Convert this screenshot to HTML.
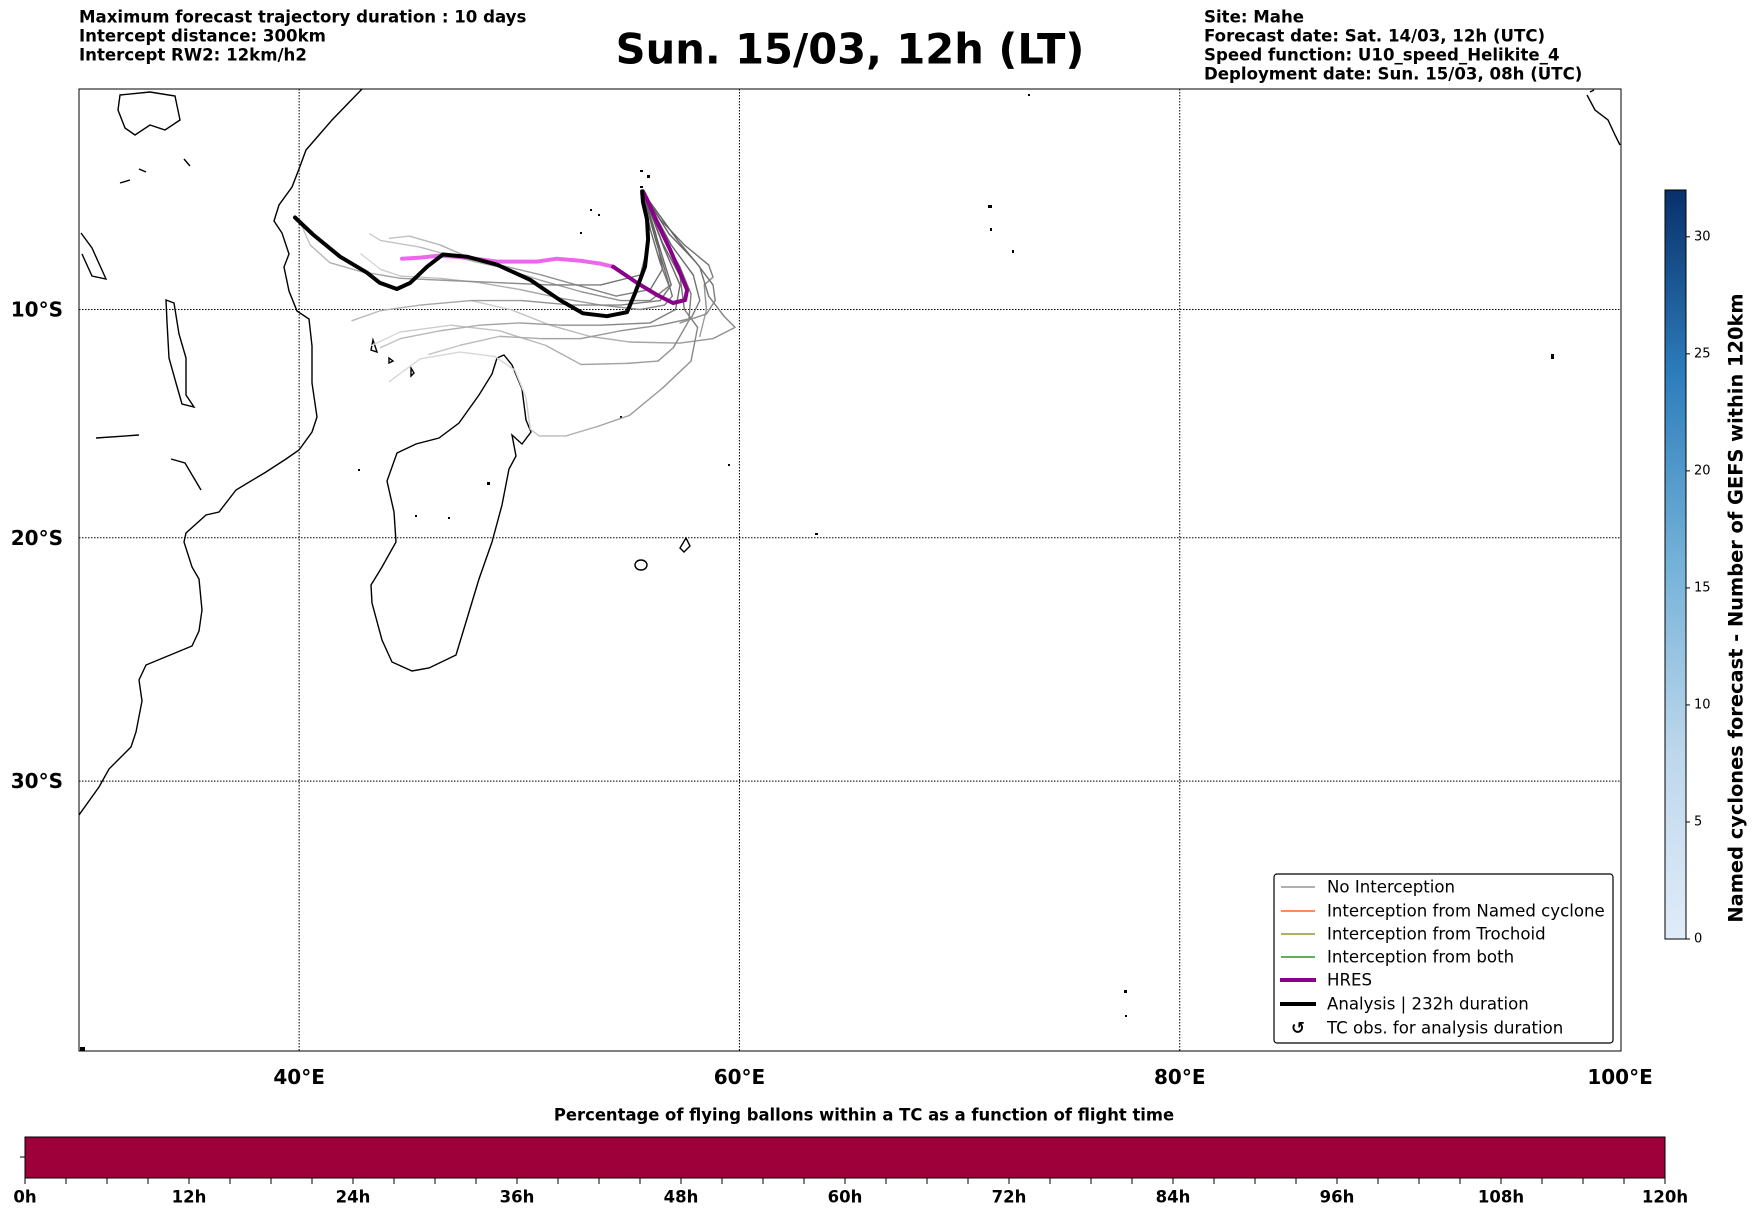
<!DOCTYPE html>
<html><head><meta charset="utf-8">
<style>
html,body{margin:0;padding:0;background:#fff;}
svg{display:block;font-family:"DejaVu Sans","Liberation Sans",sans-serif;}
.hd{font-size:16.6px;font-weight:bold;}
</style></head>
<body>
<svg id="fig" width="1752" height="1213" viewBox="0 0 1752 1213" xmlns="http://www.w3.org/2000/svg">
<g class="hd" dominant-baseline="central">
<text x="79" y="17">Maximum forecast trajectory duration : 10 days</text>
<text x="79" y="36">Intercept distance: 300km</text>
<text x="79" y="55">Intercept RW2: 12km/h2</text>
</g>
<text x="850" y="49" text-anchor="middle" dominant-baseline="central" font-size="41.6" font-weight="bold">Sun. 15/03, 12h (LT)</text>
<g class="hd" dominant-baseline="central">
<text x="1204" y="17">Site: Mahe</text>
<text x="1204" y="36">Forecast date: Sat. 14/03, 12h (UTC)</text>
<text x="1204" y="55">Speed function: U10_speed_Helikite_4</text>
<text x="1204" y="74">Deployment date: Sun. 15/03, 08h (UTC)</text>
</g>
<defs><clipPath id="mapclip"><rect x="79" y="89" width="1542" height="962"/></clipPath>
<linearGradient id="blues" x1="0" y1="1" x2="0" y2="0">
<stop offset="0" stop-color="#e0ecf8"/><stop offset="0.25" stop-color="#bdd7ec"/><stop offset="0.5" stop-color="#75b2d8"/><stop offset="0.75" stop-color="#2e7ebc"/><stop offset="1" stop-color="#08306b"/>
</linearGradient></defs>
<g id="map" clip-path="url(#mapclip)">
<rect x="79" y="89" width="1542" height="962" fill="#fff"/>
<g id="grid"></g>
<g fill="none" stroke="#000" stroke-width="1.4">
<path d="M362,89 L332,120 319,135 306,150 299,169 292,187 279,205 274,221 282,233 289,254 284,267 289,291 297,311 309,319 312,346 312,383 317,417 312,432 299,450 286,459 266,472 236,490 219,512 206,515 186,533 184,542 192,567 199,579 202,610 199,631 192,646 146,665 139,680 142,701 136,732 131,747 109,769 99,787 79,815"/>
<path d="M504,355 L512,365 522,389 526,420 531,432 522,444 512,435 516,456 509,469 502,505 492,542 479,579 466,622 456,655 429,668 412,671 392,662 382,640 372,603 371,585 382,567 396,542 394,512 387,481 397,453 416,444 439,438 459,423 479,395 492,374 497,358 Z"/>
<path d="M166,300 L174,303 179,334 186,358 186,395 194,407 182,404 176,383 169,358 167,322 Z"/>
<path d="M81,233 L92,248 106,279 92,276 82,254"/>
<path d="M120,95 L150,92 175,96 180,120 165,130 150,125 135,135 125,128 118,110 Z"/>
<path d="M171,459 L185,463 201,490 M96,438 L139,435 M120,183 L130,180 M139,169 L146,172 M184,159 L190,166"/>
<path d="M373,340 L377,352 371,350 Z M389,358 l4,3 -4,2 Z M411,368 l3,5 -3,3 Z"/>
<ellipse cx="641" cy="565" rx="6" ry="5"/>
<path d="M686,538 L690,546 684,552 680,548 Z"/>
<path d="M1587,95 L1595,110 1608,120 1615,135 1620,145 M1590,92 l4,-2"/>
</g>
<g fill="#000">
<rect x="640" y="170" width="3" height="2"/><rect x="647" y="175" width="3" height="3"/><rect x="640" y="186" width="3" height="2"/>
<rect x="590" y="209" width="2" height="2"/><rect x="598" y="214" width="2" height="2"/><rect x="580" y="232" width="2" height="2"/><rect x="988" y="205" width="4" height="3"/><rect x="990" y="228" width="2" height="3"/><rect x="1012" y="250" width="2" height="3"/><rect x="1028" y="94" width="2" height="2"/><rect x="1551" y="354" width="3" height="5"/><rect x="1124" y="990" width="3" height="3"/><rect x="1125" y="1015" width="2" height="2"/><rect x="815" y="533" width="3" height="2"/><rect x="728" y="464" width="2" height="2"/><rect x="620" y="416" width="2" height="2"/><rect x="358" y="469" width="2" height="2"/><rect x="415" y="515" width="2" height="2"/><rect x="448" y="517" width="2" height="2"/><rect x="487" y="482" width="3" height="3"/><rect x="80" y="1047" width="5" height="4"/>
</g>
<g id="traj"></g>
</g>
<rect x="79" y="89" width="1542" height="962" fill="none" stroke="#000" stroke-width="1"/>
<g id="axislabels" font-size="20" font-weight="bold"></g>
<g font-size="16.6">
<rect x="1274" y="874" width="339" height="169" rx="3" fill="#fff" stroke="#000" stroke-width="1.2"/>
<g><line x1="1281" y1="887" x2="1315" y2="887" stroke="#808080" stroke-width="1.2"/><text x="1327" y="887" dominant-baseline="central">No Interception</text></g>
<g><line x1="1281" y1="911" x2="1315" y2="911" stroke="#ff4500" stroke-width="1.2"/><text x="1327" y="911" dominant-baseline="central">Interception from Named cyclone</text></g>
<g><line x1="1281" y1="934" x2="1315" y2="934" stroke="#808000" stroke-width="1.2"/><text x="1327" y="934" dominant-baseline="central">Interception from Trochoid</text></g>
<g><line x1="1281" y1="957" x2="1315" y2="957" stroke="#008000" stroke-width="1.2"/><text x="1327" y="957" dominant-baseline="central">Interception from both</text></g>
<g><line x1="1280" y1="980" x2="1316" y2="980" stroke="#8b008b" stroke-width="4"/><text x="1327" y="980" dominant-baseline="central">HRES</text></g>
<g><line x1="1280" y1="1004" x2="1316" y2="1004" stroke="#000" stroke-width="4"/><text x="1327" y="1004" dominant-baseline="central">Analysis | 232h duration</text></g>
<g><text x="1298" y="1028" text-anchor="middle" dominant-baseline="central" font-weight="bold">↺</text><text x="1327" y="1028" dominant-baseline="central">TC obs. for analysis duration</text></g>
</g>
<g id="cbar">
<rect x="1665" y="190" width="21" height="749" fill="url(#blues)" stroke="#000" stroke-width="1"/>
</g>
<text transform="translate(1736,608) rotate(-90)" text-anchor="middle" dominant-baseline="central" font-size="19.4" font-weight="bold">Named cyclones forecast - Number of GEFS within 120km</text>
<text x="864" y="1115" text-anchor="middle" dominant-baseline="central" font-size="16.4" font-weight="bold">Percentage of flying ballons within a TC as a function of flight time</text>
<g id="tbar">
<rect x="25" y="1137" width="1640" height="41" fill="#9e003a" stroke="#000" stroke-width="1"/>
<line x1="20" y1="1157" x2="25" y2="1157" stroke="#000"/>
</g>
</svg>
<script>
var lonTicks=[40,60,80,100];
var lonTickLabels=["40°E","60°E","80°E","100°E"];
var latTicks=[10,20,30];
var latTickLabels=["10°S","20°S","30°S"];
var cbarTicks=[0,5,10,15,20,25,30];
var cbarMax=32;
var hourTicks=[0,12,24,36,48,60,72,84,96,108,120];
var hourLabels=["0h","12h","24h","36h","48h","60h","72h","84h","96h","108h","120h"];
var analysisLon=[55.58,55.62,55.8,55.85,55.71,55.26,54.89,53.98,52.89,51.85,50.49,48.99,47.62,46.53,45.81,45.04,44.44,43.67,43.08,41.86,40.63,39.81];
var analysisLat=[4.68,5.17,5.95,6.85,8.08,9.26,10.12,10.3,10.17,9.58,8.67,7.99,7.63,7.53,8.08,8.81,9.08,8.81,8.35,7.63,6.63,5.86];
var hresLonA=[55.62,55.8,56.26,56.85,57.3,57.62,57.53,56.98,56.26,55.35,54.26];
var hresLatA=[4.68,5.04,6.08,7.31,8.35,9.12,9.58,9.71,9.35,8.81,8.08];
var hresLonB=[54.26,53.67,52.76,51.71,50.8,50.03,48.99,47.62,46.4,45.49,44.67];
var hresLatB=[8.08,7.94,7.81,7.72,7.85,7.85,7.85,7.67,7.58,7.67,7.72];
var ens1Lon=[55.6,56.4,57.5,58.6,58.8,58.4,58.5,58.2];
var ens1Lat=[4.7,5.95,7.1,8.0,8.55,8.9,10.0,11.2];
var ens2Lon=[55.6,57.2,58.2,58.6,59.3,59.8,58.8,57.3,55.0,53.2,51.4,49.6,47.8];
var ens2Lat=[4.7,6.9,8.1,9.4,10.3,10.8,11.3,11.5,11.45,11.2,10.7,10.0,9.6];
var ens3Lon=[55.6,56.5,57.3,57.8,57.7,57.0,56.3,54.9,52.8,51.2,49.1,46.9,44.6,43.3];
var ens3Lat=[4.7,6.7,8.1,9.3,10.5,11.7,12.3,12.4,12.45,11.6,10.95,10.7,11.0,11.6];
var ens4Lon=[55.6,56.5,57.3,57.5,58.1,57.8,56.5,55.0,53.5,52.1,50.9,50.5,50.3,49.8,48.9,47.3,45.5,44.1];
var ens4Lat=[4.7,7.0,8.5,10.0,10.8,12.3,13.5,14.7,15.2,15.6,15.6,15.3,13.9,12.7,12.1,11.9,12.2,13.2];
var ens5Lon=[55.6,56.2,56.6,56.95,56.6,55.5,53.7,51.9,50.0,48.2,46.4,44.6,43.7,42.8];
var ens5Lat=[4.7,6.9,8.2,9.4,9.8,10.0,9.8,9.5,9.1,8.8,8.6,8.5,8.2,7.5];
var ens6Lon=[55.6,55.95,56.4,56.8,55.95,54.6,52.8,51.0,49.1,47.3,45.5,43.7,43.2];
var ens6Lat=[4.7,6.4,7.9,8.95,9.6,9.6,9.2,8.7,8.1,7.7,7.2,6.9,6.6];
var ens7Lon=[55.6,56.2,56.5,55.95,54.4,52.6,51.0,49.1,47.8,46.4,45.0,44.1];
var ens7Lat=[4.7,6.6,8.2,9.1,9.4,8.9,8.45,8.0,7.7,7.1,6.7,6.8];
var ens8Lon=[55.6,55.9,55.5,53.7,51.4,49.1,46.8,44.6,42.8,41.4,40.5,40.1];
var ens8Lat=[4.7,6.9,8.45,8.9,8.9,8.8,8.7,8.6,8.3,7.9,7.1,6.2];
var ens9Lon=[55.6,56.4,56.9,56.4,54.6,52.4,50.1,47.8,45.5,43.7,42.4];
var ens9Lat=[4.7,7.3,8.9,9.6,9.8,9.8,9.6,9.6,9.8,10.05,10.5];
var ens10Lon=[55.6,56.6,57.3,57.1,55.95,53.7,51.9,50.0,48.2,46.4,44.6,43.7];
var ens10Lat=[4.7,7.3,8.9,10.0,10.6,10.7,10.7,10.6,10.7,10.95,11.3,11.7];
var ens11Lon=[55.6,56.9,57.9,58.2,57.8,56.4,54.6,52.8,51.0,49.1,47.3,45.9];
var ens11Lat=[4.7,7.1,8.45,9.6,10.4,10.7,10.95,11.3,11.3,11.2,11.6,12.0];
var ens12Lon=[55.6,56.8,58.0,58.8,58.9,58.5,57.3];
var ens12Lat=[4.7,6.6,7.85,8.9,9.6,10.2,10.6];

var NS="http://www.w3.org/2000/svg";
function merc(d){var r=d*Math.PI/180;return Math.log(Math.tan(Math.PI/4+r/2));}
function px(lon){return 79+(lon-30)*22.015;}
function py(lat){return 309.5+(merc(lat)-merc(10))*1261.4;}
function mk(tag,attrs,parent){var e=document.createElementNS(NS,tag);for(var k in attrs)e.setAttribute(k,attrs[k]);parent.appendChild(e);return e;}
var grid=document.getElementById('grid');
lonTicks.forEach(function(l){if(l<100){var e=mk('line',{x1:px(l),y1:89,x2:px(l),y2:1051,stroke:'#000','stroke-width':1,'stroke-dasharray':'1.5,1.5'},grid);

}});
latTicks.forEach(function(l){var e=mk('line',{x1:79,y1:py(l),x2:1621,y2:py(l),stroke:'#000','stroke-width':1,'stroke-dasharray':'1.5,1.5'},grid);

});
var al=document.getElementById('axislabels');
lonTicks.forEach(function(l,i){var t=mk('text',{x:px(l),y:1077,'text-anchor':'middle','dominant-baseline':'central'},al);t.textContent=lonTickLabels[i];

});
latTicks.forEach(function(l,i){var t=mk('text',{x:63,y:py(l),'text-anchor':'end','dominant-baseline':'central'},al);t.textContent=latTickLabels[i];

});
var traj=document.getElementById('traj');
var ens=[[ens1Lon,ens1Lat],[ens2Lon,ens2Lat],[ens3Lon,ens3Lat],[ens4Lon,ens4Lat],[ens5Lon,ens5Lat],[ens6Lon,ens6Lat],[ens7Lon,ens7Lat],[ens8Lon,ens8Lat],[ens9Lon,ens9Lat],[ens10Lon,ens10Lat],[ens11Lon,ens11Lat],[ens12Lon,ens12Lat]];
ens.forEach(function(tr){var g=mk('g',{},traj);


for(var i=0;i<tr[0].length-1;i++){var f=Math.min(1,i/12);var c=Math.round(95+f*120);
mk('line',{x1:px(tr[0][i]),y1:py(tr[1][i]),x2:px(tr[0][i+1]),y2:py(tr[1][i+1]),stroke:'rgb('+c+','+c+','+c+')','stroke-width':1.4,'stroke-linecap':'round'},g);}});
function pline(lons,lats,col,w,name){var d=lons.map(function(l,i){return (i?'L':'M')+px(l).toFixed(1)+','+py(lats[i]).toFixed(1);}).join(' ');
var p=mk('path',{d:d,fill:'none',stroke:col,'stroke-width':w,'stroke-linejoin':'round','stroke-linecap':'round'},traj);

}
pline(hresLonB,hresLatB,'#ee66ee',4,'hres-trajectory-late');
pline(hresLonA,hresLatA,'#8b008b',4,'hres-trajectory-early');
pline(analysisLon,analysisLat,'#000',4,'analysis-trajectory');
var cb=document.getElementById('cbar');
cbarTicks.forEach(function(v){var y=939-v/cbarMax*749;mk('line',{x1:1686,y1:y,x2:1690,y2:y,stroke:'#000'},cb);
var t=mk('text',{x:1694,y:y,'dominant-baseline':'central','font-size':13},cb);t.textContent=String(v);

});
var tb=document.getElementById('tbar');
function hx(h){return 25+h/120*1640;}
for(var h=0;h<=120;h+=3){mk('line',{x1:hx(h),y1:1178,x2:hx(h),y2:1184,stroke:'#000'},tb);}
hourTicks.forEach(function(h,i){var t=mk('text',{x:hx(h),y:1197,'text-anchor':'middle','dominant-baseline':'central','font-size':16.5,'font-weight':'bold'},tb);t.textContent=hourLabels[i];

});
</script>
</body></html>
